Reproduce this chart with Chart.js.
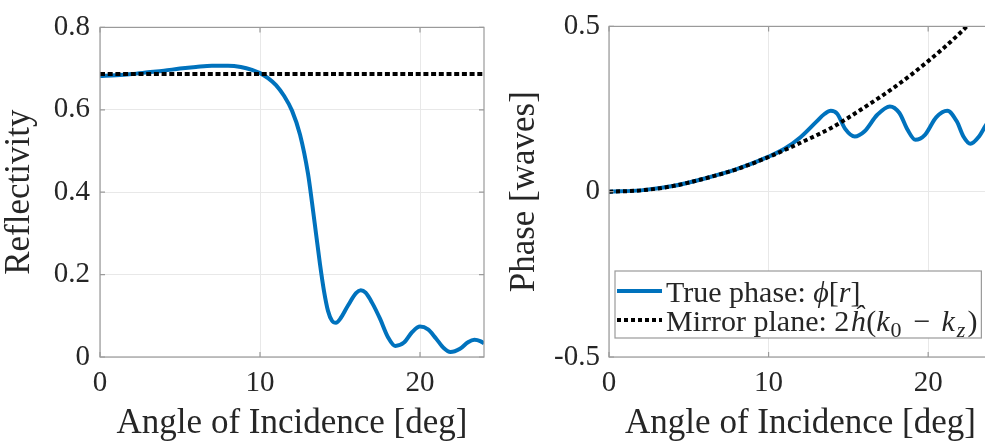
<!DOCTYPE html>
<html>
<head>
<meta charset="utf-8">
<script src="https://cdn.jsdelivr.net/npm/chart.js@4.4.1/dist/chart.umd.min.js"></script>
<style>
  html, body { margin: 0; padding: 0; background: #fff; overflow: hidden; width: 985px; height: 445px; }
  .panel { position: absolute; top: 0; }
</style>
</head>
<body>
<div class="panel" style="left:0px"><canvas id="reflChart" width="500" height="445" style="width:500px;height:445px"></canvas></div>
<div class="panel" style="left:500px"><canvas id="phaseChart" width="500" height="445" style="width:500px;height:445px"></canvas></div>
<script>
// left panel: reflectivity vs angle
const reflAngle = [0, 1, 2, 3, 4, 5, 6, 7, 8, 8.8, 9.5, 10, 10.5, 11, 11.5, 12, 12.5, 13, 13.25, 13.5, 13.75, 14, 14.25, 14.5, 14.75, 15, 15.5, 16, 16.3, 16.6, 17, 17.5, 18, 18.45, 19, 19.5, 20, 20.5, 21, 21.5, 21.9, 22.5, 23, 23.4, 23.8, 24];
const reflValue = [0.682, 0.684, 0.687, 0.691, 0.695, 0.700, 0.704, 0.707, 0.707, 0.704, 0.697, 0.689, 0.677, 0.660, 0.634, 0.598, 0.540, 0.445, 0.375, 0.300, 0.225, 0.160, 0.112, 0.088, 0.083, 0.092, 0.125, 0.155, 0.162, 0.156, 0.132, 0.093, 0.048, 0.027, 0.035, 0.060, 0.074, 0.067, 0.045, 0.021, 0.012, 0.020, 0.036, 0.042, 0.038, 0.033];
const mirrorReflAngle = [0, 24];
const mirrorReflValue = [0.687, 0.687];

// right panel: phase vs angle
const phaseAngle = [0, 2, 4, 6, 8, 10, 11, 12, 13, 13.5, 13.9, 14.3, 14.8, 15.4, 16, 16.8, 17.6, 18.2, 18.7, 19.2, 19.8, 20.5, 21.2, 21.8, 22.2, 22.65, 23.2, 23.6, 24];
const phaseValue = [0, 0.004, 0.017, 0.040, 0.068, 0.106, 0.130, 0.165, 0.212, 0.235, 0.245, 0.236, 0.190, 0.167, 0.182, 0.232, 0.258, 0.238, 0.188, 0.157, 0.172, 0.225, 0.245, 0.212, 0.168, 0.145, 0.168, 0.200, 0.228];
const mirrorAngle = [0, 2, 4, 6, 8, 10, 12, 14, 16, 18, 20, 22, 24];
const mirrorPhase = [0, 0.004, 0.017, 0.040, 0.068, 0.105, 0.148, 0.195, 0.255, 0.320, 0.395, 0.480, 0.580];

const xTicks = [0, 10, 20];
const reflTicks = [0, 0.2, 0.4, 0.6, 0.8];
const phaseTicks = [-0.5, 0, 0.5];

const xTitle = 'Angle of Incidence [deg]';
const reflTitle = 'Reflectivity';
const phaseTitle = 'Phase [waves]';

const serif = "'Liberation Serif', 'Times New Roman', serif";
const textColor = '#262626';
const blue = '#0072BD';

const pts = (xs, ys) => xs.map((x, i) => ({ x: x, y: ys[i] }));

// draws the box round the plot and the small inward ticks, like matlab does
const boxPlugin = {
  id: 'matlabBox',
  afterDatasetsDraw(chart) {
    const { ctx, chartArea: a, scales } = chart;
    ctx.save();
    ctx.strokeStyle = '#9a9a9a';
    ctx.lineWidth = 1.2;
    ctx.strokeRect(a.left, a.top, a.right - a.left, a.bottom - a.top);
    ctx.beginPath();
    scales.x.ticks.forEach(t => {
      const px = scales.x.getPixelForValue(t.value);
      ctx.moveTo(px, a.bottom); ctx.lineTo(px, a.bottom - 5);
      ctx.moveTo(px, a.top); ctx.lineTo(px, a.top + 5);
    });
    scales.y.ticks.forEach(t => {
      const py = scales.y.getPixelForValue(t.value);
      ctx.moveTo(a.left, py); ctx.lineTo(a.left + 5, py);
      ctx.moveTo(a.right, py); ctx.lineTo(a.right - 5, py);
    });
    ctx.stroke();
    ctx.restore();
  }
};

// legend with the math bits, drawn inside the plot area (lower left)
const mathLegend = {
  id: 'mathLegend',
  afterDraw(chart, args, opts) {
    if (!opts.rows) return;
    const { ctx, chartArea: a } = chart;
    const left = a.left + 6, top = a.bottom - 19 - 67;
    const textX = left + 51;
    const fontFor = s => (s.it ? 'italic ' : '') + (s.sub ? '22px ' : '30px ') + serif;
    const segW = s => { ctx.font = fontFor(s); return ctx.measureText(s.t).width + (s.pad || 0) * 2; };
    let maxW = 0;
    opts.rows.forEach(r => {
      maxW = Math.max(maxW, r.segs.reduce((w, s) => w + segW(s), 0));
    });
    const boxW = maxW + 55;
    ctx.save();
    ctx.fillStyle = '#fff';
    ctx.fillRect(left, top, boxW, 67);
    ctx.strokeStyle = '#9a9a9a';
    ctx.lineWidth = 1.2;
    ctx.strokeRect(left, top, boxW, 67);
    opts.rows.forEach((r, i) => {
      const ds = chart.data.datasets[r.ds];
      const ly = top + 20 + i * 29;
      ctx.strokeStyle = ds.borderColor;
      ctx.lineWidth = ds.borderWidth;
      ctx.setLineDash(ds.borderDash || []);
      ctx.beginPath();
      ctx.moveTo(left + 2, ly); ctx.lineTo(left + 47, ly);
      ctx.stroke();
      ctx.setLineDash([]);
      let x = textX;
      const base = top + 31 + i * 29;
      ctx.fillStyle = textColor;
      ctx.textBaseline = 'alphabetic';
      ctx.textAlign = 'left';
      r.segs.forEach(s => {
        const w = segW(s);
        ctx.font = fontFor(s);
        ctx.fillText(s.t, x + (s.pad || 0), base + (s.sub ? 6 : 0));
        x += w;
      });
    });
    ctx.restore();
  }
};

function xAxis() {
  return {
    type: 'linear', min: 0, max: 24,
    afterBuildTicks: s => { s.ticks = xTicks.map(v => ({ value: v })); },
    ticks: { color: textColor, font: { family: serif, size: 29 }, padding: 9, maxRotation: 0 },
    grid: { color: '#e8e8e8', drawTicks: false },
    border: { display: false },
    title: { display: true, text: xTitle, color: textColor, font: { family: serif, size: 35 }, padding: { top: 0, bottom: 0 } },
    afterFit: s => { s.height = 88; }
  };
}

function yAxis(min, max, tickVals, title, width, pad, titlePad) {
  return {
    type: 'linear', min: min, max: max,
    afterBuildTicks: s => { s.ticks = tickVals.map(v => ({ value: v })); },
    ticks: { color: textColor, font: { family: serif, size: 29 }, padding: pad },
    grid: { color: '#e8e8e8', drawTicks: false },
    border: { display: false },
    title: { display: true, text: title, color: textColor, font: { family: serif, size: 35 }, padding: { top: titlePad, bottom: 0 } },
    afterFit: s => { s.width = width; }
  };
}

const common = {
  responsive: false,
  animation: false,
  events: [],
  layout: { padding: { top: 18, bottom: 0, left: 0, right: 16 } },
  plugins: { legend: { display: false }, tooltip: { enabled: false } },
  elements: { point: { radius: 0 }, line: { cubicInterpolationMode: 'monotone' } }
};

new Chart(document.getElementById('reflChart'), {
  type: 'line',
  data: {
    datasets: [
      { label: 'Mirror plane', data: pts(mirrorReflAngle, mirrorReflValue), borderColor: '#000', borderWidth: 4, borderDash: [5, 2.7], order: 0, clip: 0 },
      { label: 'Reflectivity', data: pts(reflAngle, reflValue), borderColor: blue, borderWidth: 4, order: 1, clip: 0 }
    ]
  },
  options: Object.assign({}, common, {
    scales: { x: xAxis(), y: yAxis(0, 0.8, reflTicks, reflTitle, 100, 10, -1) }
  }),
  plugins: [boxPlugin]
});

new Chart(document.getElementById('phaseChart'), {
  type: 'line',
  data: {
    datasets: [
      { label: 'Mirror plane', data: pts(mirrorAngle, mirrorPhase), borderColor: '#000', borderWidth: 4, borderDash: [4, 3], order: 0, clip: 0 },
      { label: 'True phase', data: pts(phaseAngle, phaseValue), borderColor: blue, borderWidth: 4, order: 1, clip: 0 }
    ]
  },
  options: Object.assign({}, common, {
    layout: { padding: { top: 18, bottom: 0, left: 0, right: 8 } },
    scales: { x: xAxis(), y: yAxis(-0.5, 0.5, phaseTicks, phaseTitle, 109, 9, 4) },
    plugins: {
      legend: { display: false }, tooltip: { enabled: false },
      mathLegend: {
        rows: [
          { ds: 1, segs: [{ t: 'True phase: ' }, { t: 'ϕ', it: true }, { t: '[' }, { t: 'r', it: true }, { t: ']' }] },
          { ds: 0, segs: [{ t: 'Mirror plane: ' }, { t: '2' }, { t: 'ĥ', it: true, pad: 1 }, { t: '(' }, { t: 'k', it: true }, { t: '0', sub: true, pad: 1 }, { t: '−', pad: 11 }, { t: 'k', it: true }, { t: 'z', it: true, sub: true, pad: 2 }, { t: ')' }] }
        ]
      }
    }
  }),
  plugins: [boxPlugin, mathLegend]
});
</script>
</body>
</html>
